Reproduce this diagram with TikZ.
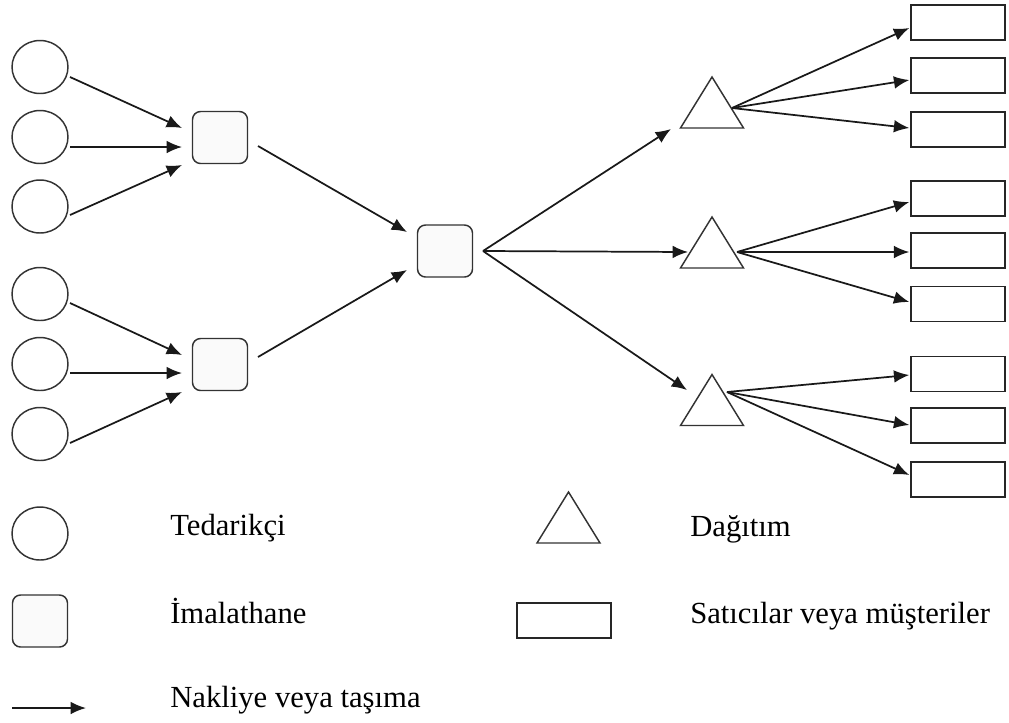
\documentclass[tikz,border=0pt]{standalone}
\usepackage{fontspec}
\setmainfont{Liberation Serif}
\usetikzlibrary{arrows.meta,shapes.geometric,calc}

\tikzset{
  supplier/.style={ellipse,draw=black!80,line width=1.1pt,fill=white,
    minimum width=42pt,minimum height=39.75pt,inner sep=0pt},
  plant/.style={rectangle,rounded corners=6pt,draw=black!80,line width=1.1pt,
    fill=black!2,minimum width=41.25pt,minimum height=39pt,inner sep=0pt},
  retailer/.style={rectangle,draw=black!85,line width=1.1pt,fill=white,
    minimum width=70.5pt,minimum height=26.25pt,inner sep=0pt},
  depot/.style={draw=black!80,line width=1.1pt,fill=white,line join=miter},
  flow/.style={draw=black!90,line width=1.3pt,
    -{Latex[length=11.5pt,width=9.5pt]}},
  legendtext/.style={anchor=base west,inner sep=0pt,
    font=\fontsize{23pt}{27pt}\selectfont}
}

\begin{document}
\begin{tikzpicture}[x=0.75pt,y=-0.75pt]
\useasboundingbox (0,0) rectangle (1009,722);

% suppliers
\node[supplier] (c1) at (40,67) {};
\node[supplier] (c2) at (40,137) {};
\node[supplier] (c3) at (40,206.5) {};
\node[supplier] (c4) at (40,294) {};
\node[supplier] (c5) at (40,364) {};
\node[supplier] (c6) at (40,434) {};

% plants
\node[plant] (s1) at (220,137.5) {};
\node[plant] (s2) at (220,364.5) {};
\node[plant] (m)  at (445,251) {};

% distribution centres (drawn as triangles around named centres)
\coordinate (t1) at (712,102.5);
\coordinate (t2) at (712,242.5);
\coordinate (t3) at (712,400);
\foreach \t in {t1,t2,t3}
  \draw[depot] ($(\t)+(0,-25.5)$) -- ($(\t)+(31.5,25.5)$) -- ($(\t)+(-31.5,25.5)$) -- cycle;

% retailers
\node[retailer] (r1) at (958,22.5) {};
\node[retailer] (r2) at (958,75.5) {};
\node[retailer] (r3) at (958,129.5) {};
\node[retailer] (r4) at (958,198.5) {};
\node[retailer] (r5) at (958,250.5) {};
\node[retailer] (r6) at (958,304) {};
\node[retailer] (r7) at (958,374) {};
\node[retailer] (r8) at (958,425.5) {};
\node[retailer] (r9) at (958,479.5) {};

% suppliers -> plants
\draw[flow] ($(c1)+(30,10)$)  -- ($(s1)+(-38,-9.5)$);
\draw[flow] ($(c2)+(30,10)$)  -- ($(s1)+(-38,9.5)$);
\draw[flow] ($(c3)+(30,8.5)$) -- ($(s1)+(-38,27.5)$);
\draw[flow] ($(c4)+(30,9)$)   -- ($(s2)+(-38,-9.5)$);
\draw[flow] ($(c5)+(30,9)$)   -- ($(s2)+(-38,8.5)$);
\draw[flow] ($(c6)+(30,9)$)   -- ($(s2)+(-38,27.5)$);

% plants -> main plant
\draw[flow] ($(s1)+(38,8.5)$)  -- ($(m)+(-38,-19)$);
\draw[flow] ($(s2)+(38,-7.5)$) -- ($(m)+(-38,19)$);

% main plant -> distribution
\draw[flow] ($(m)+(38,0)$) -- ($(t1)+(-41,26.5)$);
\draw[flow] ($(m)+(38,0)$) -- ($(t2)+(-24,9.5)$);
\draw[flow] ($(m)+(38,0)$) -- ($(t3)+(-25,-10)$);

% distribution -> retailers
\draw[flow] ($(t1)+(20,5.5)$) -- ($(r1.west)+(-1,5.5)$);
\draw[flow] ($(t1)+(20,5.5)$) -- ($(r2.west)+(-1,4.5)$);
\draw[flow] ($(t1)+(20,5.5)$) -- ($(r3.west)+(-1,-1.5)$);
\draw[flow] ($(t2)+(25,9.5)$) -- ($(r4.west)+(-1,3.5)$);
\draw[flow] ($(t2)+(25,9.5)$) -- ($(r5.west)+(-1,1.5)$);
\draw[flow] ($(t2)+(25,9.5)$) -- ($(r6.west)+(-1,-2)$);
\draw[flow] ($(t3)+(15,-8)$)  -- ($(r7.west)+(-1,1)$);
\draw[flow] ($(t3)+(15,-8)$)  -- ($(r8.west)+(-1,-0.5)$);
\draw[flow] ($(t3)+(15,-8)$)  -- ($(r9.west)+(-1,-4.5)$);

% legend
\node[supplier] (lc) at (40,533.5) {};
\node[legendtext] (lct) at (170,535) {Tedarikçi};
\coordinate (lt) at (568.5,517.5);
\draw[depot] ($(lt)+(0,-25.5)$) -- ($(lt)+(31.5,25.5)$) -- ($(lt)+(-31.5,25.5)$) -- cycle;
\node[legendtext] (ltt) at (690,536) {Dağıtım};
\node[plant] (ls) at (40,621) {};
\node[legendtext] (lst) at (170,623) {İmalathane};
\node[retailer] (lr) at (564,620.5) {};
\node[legendtext] (lrt) at (690,623) {Satıcılar veya müşteriler};
\coordinate (la1) at (12,708);
\coordinate (la2) at (86,708);
\draw[flow] (la1) -- (la2);
\node[legendtext] (lat) at (170,707) {Nakliye veya taşıma};
\end{tikzpicture}
\end{document}
